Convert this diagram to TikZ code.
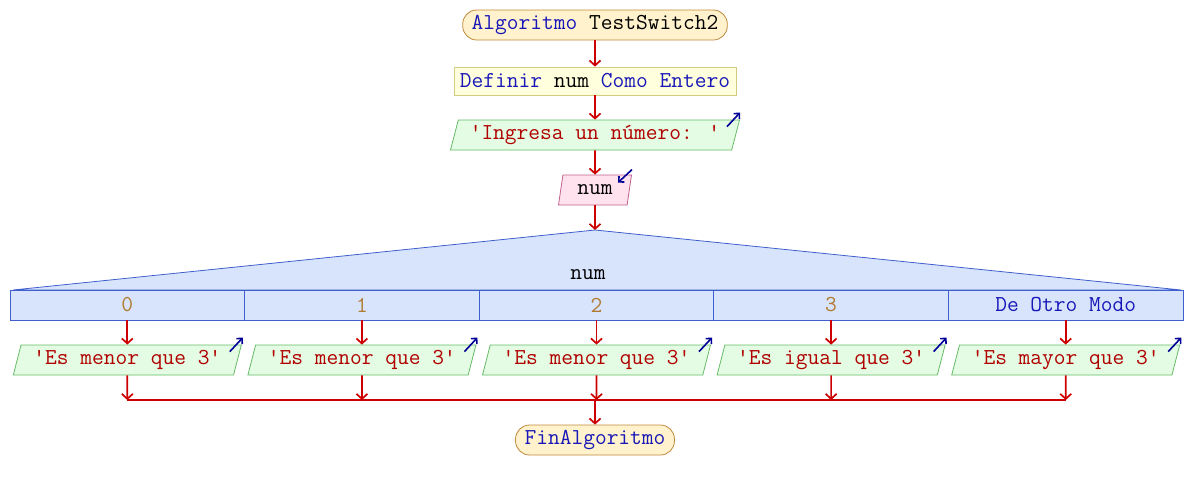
\documentclass[tikz,border=0pt]{standalone}
\usepackage{fontspec}
\usepackage{tikz}
\usetikzlibrary{arrows.meta,shapes.geometric,calc}
\definecolor{flowred}{HTML}{CC0000}
\definecolor{markblue}{HTML}{000099}
\definecolor{kwblue}{HTML}{1818B8}
\definecolor{strred}{HTML}{B00000}
\definecolor{numbrown}{HTML}{B07A30}
\definecolor{termfill}{HTML}{FFF2CC}
\definecolor{termborder}{HTML}{C08A3E}
\definecolor{deffill}{HTML}{FFFFDD}
\definecolor{defborder}{HTML}{D4CC80}
\definecolor{outfill}{HTML}{E4FCE4}
\definecolor{outborder}{HTML}{66BB66}
\definecolor{infill}{HTML}{FFE2EE}
\definecolor{inborder}{HTML}{C0608A}
\definecolor{swfill}{HTML}{D8E4FC}
\definecolor{swborder}{HTML}{3F5FCC}
\newcommand{\kw}[1]{\textcolor{kwblue}{#1}}
\newcommand{\strg}[1]{\textcolor{strred}{\textquotesingle#1\textquotesingle}}
\newcommand{\numlit}[1]{\textcolor{numbrown}{#1}}

\begin{document}
\begin{tikzpicture}[x=1pt,y=-1pt,
    font=\ttfamily\fontsize{22.8}{26}\selectfont,
    flow/.style={
      draw=flowred, line width=1.7pt,
      -{Straight Barb[length=5pt,width=11pt]}
    },
    joinline/.style={draw=flowred, line width=1.7pt},
    iomark/.style={
      draw=markblue, line width=1.6pt,
      -{Straight Barb[length=4pt,width=8pt]}
    },
    terminal/.style={
      rectangle, rounded corners=14pt, draw=termborder, fill=termfill,
      minimum height=30pt, inner xsep=9pt, inner ysep=1pt, line width=0.8pt
    },
    define/.style={
      rectangle, draw=defborder, fill=deffill,
      minimum height=28pt, inner xsep=6pt, inner ysep=1pt, line width=0.8pt
    },
    output/.style={
      trapezium, trapezium left angle=70, trapezium right angle=110,
      trapezium stretches body, draw=outborder, fill=outfill,
      minimum height=30pt, inner ysep=1pt, line width=0.8pt
    },
    input/.style={
      trapezium, trapezium left angle=70, trapezium right angle=110,
      trapezium stretches body, draw=inborder, fill=infill,
      minimum height=30pt, inner ysep=1pt, line width=0.8pt
    },
    case/.style={
      rectangle, draw=swborder, fill=swfill,
      minimum width=234.6pt, minimum height=30pt, inner ysep=1pt, line width=0.8pt
    }
  ]
  \useasboundingbox (0,0) rectangle (1190,490);
  % main column
  \node[terminal] (start) at (595,25) {\kw{Algoritmo} TestSwitch2};
  \node[define] (def) at (595,81) {\kw{Definir} num \kw{Como} \kw{Entero}};
  \node[output, minimum width=289pt] (out) at (595,135) {\strg{Ingresa un número: }};
  \node[input, minimum width=73pt] (in) at (595,190) {num};
  \coordinate (apex) at (595,230);
  \draw[flow] (start) -- (def);
  \draw[flow] (def) -- (out);
  \draw[flow] (out) -- (in);
  \draw[flow] (in) -- (apex);
  \draw[iomark] ($(out.top right corner)+(-13,7)$) -- ($(out.top right corner)+(0,-7)$);
  \draw[iomark] ($(in.top right corner)+(0,-5)$) -- ($(in.top right corner)+(-14,8)$);
  % switch
  \path[draw=swborder, fill=swfill, line width=0.8pt] (apex) -- (13,290) -- (1181,290) -- cycle;
  \node (swlabel) at (588,275) {num};
  \node[case] (c1) at (127.3,305) {\numlit{0}};
  \node[case] (c2) at (361.9,305) {\numlit{1}};
  \node[case] (c3) at (596.5,305) {\numlit{2}};
  \node[case] (c4) at (831.1,305) {\numlit{3}};
  \node[case] (c5) at (1065.7,305) {\kw{De Otro Modo}};
  \node[output, minimum width=228pt] (o1) at (127.3,360) {\strg{Es menor que 3}};
  \node[output, minimum width=228pt] (o2) at (361.9,360) {\strg{Es menor que 3}};
  \node[output, minimum width=228pt] (o3) at (596.5,360) {\strg{Es menor que 3}};
  \node[output, minimum width=228pt] (o4) at (831.1,360) {\strg{Es igual que 3}};
  \node[output, minimum width=228pt] (o5) at (1065.7,360) {\strg{Es mayor que 3}};
  \foreach \i in {1,...,5}{
    \draw[flow] (c\i) -- (o\i);
    \draw[iomark] ($(o\i.top right corner)+(-12,7)$) -- ($(o\i.top right corner)+(1,-7)$);
  }
  % merge
  \coordinate (join) at (595,400);
  \node[terminal] (end) at (595,440) {\kw{FinAlgoritmo}};
  \draw[joinline] (o1.south |- join) -- (o5.south |- join);
  \foreach \i in {1,...,5}{
    \draw[flow] (o\i) -- (o\i.south |- join);
  }
  \draw[flow] (join) -- (end);
\end{tikzpicture}
\end{document}
